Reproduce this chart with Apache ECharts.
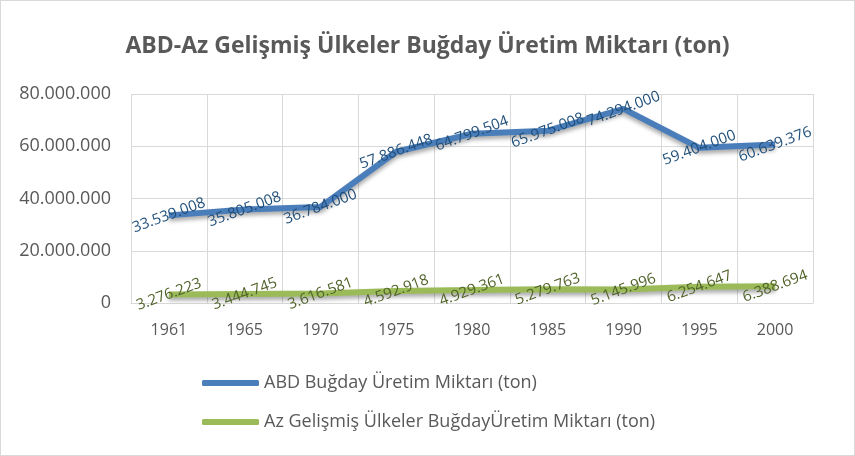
<!DOCTYPE html>
<html>
<head>
<meta charset="utf-8">
<script src="https://cdn.jsdelivr.net/npm/echarts@6/dist/echarts.min.js"></script>
<style>
html, body { margin: 0; padding: 0; background: #fff; }
#chart { width: 853px; height: 454px; border: 1px solid #d9d9d9; }
</style>
</head>
<body>
<div id="chart"></div>
<script>
var years = ['1961', '1965', '1970', '1975', '1980', '1985', '1990', '1995', '2000'];
var abd = [33539008, 35805008, 36784000, 57886448, 64799504, 65975008, 74294000, 59404000, 60639376];
var azGel = [3276223, 3444745, 3616581, 4592918, 4929361, 5279763, 5145996, 6254647, 6388694];
var yTicks = [0, 20000000, 40000000, 60000000, 80000000];

function fmt(v) {
	return String(v).replace(/\B(?=(\d{3})+(?!\d))/g, '.');
}

var font = '"Open Sans", "DejaVu Sans", sans-serif';
var myChart = echarts.init(document.getElementById('chart'));
var option = {
	animation : false,
	title : {
		text : 'ABD-Az Gelişmiş Ülkeler Buğday Üretim Miktarı (ton)',
		left : 'center',
		top : 29,
		textStyle : { fontFamily : font, fontSize : 23, fontWeight : 'bold', color : '#595959' }
	},
	legend : {
		orient : 'vertical',
		left : 196,
		top : 368,
		itemGap : 21,
		itemWidth : 57,
		itemHeight : 6,
		icon : 'roundRect',
		textStyle : { fontFamily : font, fontSize : 18, color : '#595959' }
	},
	grid : { left : 130, right : 41, top : 93, bottom : 152 },
	xAxis : {
		type : 'category',
		data : years,
		boundaryGap : true,
		axisLine : { lineStyle : { color : '#d9d9d9' } },
		axisTick : { show : false },
		splitLine : { show : true, lineStyle : { color : '#d9d9d9', width : 1 } },
		axisLabel : { fontFamily : font, fontSize : 16, color : '#595959', margin : 19 }
	},
	yAxis : {
		type : 'value',
		min : yTicks[0],
		max : yTicks[yTicks.length - 1],
		interval : 20000000,
		axisLine : { show : false },
		axisTick : { show : false },
		splitLine : { lineStyle : { color : '#d9d9d9', width : 1 } },
		axisLabel : { fontFamily : font, fontSize : 18, color : '#595959', margin : 20, formatter : fmt }
	},
	series : [ {
		name : 'ABD Buğday Üretim Miktarı (ton)',
		type : 'line',
		data : abd,
		color : '#4a7ebb',
		symbol : 'circle',
		symbolSize : 0.1,
		showSymbol : true,
		lineStyle : { width : 6, shadowBlur : 4, shadowOffsetY : 3, shadowColor : 'rgba(0,0,0,0.35)' },
		label : {
			show : true, position : 'inside', rotate : 20,
			fontFamily : font, fontSize : 15, color : '#1f4e79',
			formatter : function(p) { return fmt(p.value); }
		}
	}, {
		name : 'Az Gelişmiş Ülkeler BuğdayÜretim Miktarı (ton)',
		type : 'line',
		data : azGel,
		color : '#9bbb59',
		symbol : 'circle',
		symbolSize : 0.1,
		showSymbol : true,
		lineStyle : { width : 6, shadowBlur : 4, shadowOffsetY : 3, shadowColor : 'rgba(0,0,0,0.35)' },
		label : {
			show : true, position : 'inside', rotate : 20,
			fontFamily : font, fontSize : 15, color : '#4f6228',
			formatter : function(p) { return fmt(p.value); }
		}
	} ]
};
option && myChart.setOption(option);
</script>
</body>
</html>
